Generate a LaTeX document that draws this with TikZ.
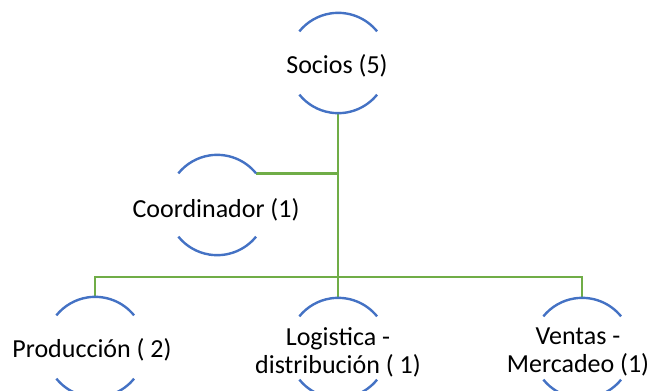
\documentclass[tikz,border=0pt]{standalone}
\usepackage{fontspec}
\setmainfont{Carlito}
\definecolor{ringblue}{HTML}{4472C4}
\definecolor{linkgreen}{HTML}{70AD47}
\tikzset{
  ring/.style={circle, minimum size=75pt, inner sep=0pt, draw=none},
  arcline/.style={draw=ringblue, line width=1.8pt},
  conn/.style={draw=linkgreen, line width=1.8pt},
  label/.style={font=\fontsize{19.5pt}{21pt}\selectfont, align=center, inner sep=0pt},
}
% split ring: an upper and a lower arc around the node centre
\newcommand{\splitring}[1]{%
  \draw[arcline] (#1.39) arc[start angle=39, end angle=141, radius=37.5pt];
  \draw[arcline] (#1.-39) arc[start angle=-39, end angle=-141, radius=37.5pt];
}
\begin{document}
\begin{tikzpicture}[x=0.75pt,y=-0.75pt]
\clip (0,0) rectangle (652,390);

\node[ring] (socios) at (338,63) {};
\node[ring] (coord)  at (217,205) {};
\node[ring] (prod)   at (95,347) {};
\node[ring] (logi)   at (338,348) {};
\node[ring] (vent)   at (582,348) {};
\coordinate (bus) at (0,277);

% connectors
\draw[conn] (socios.south) -- (logi.north);
\draw[conn] (coord.39) -- (coord.39 -| socios.south);
\draw[conn] (prod.north) -- (prod.north |- bus) -- (vent.north |- bus) -- (vent.north);

% rings
\splitring{socios}
\splitring{coord}
\splitring{prod}
\splitring{logi}
\splitring{vent}

% texts
\node[label] (sociosT) at (337,66) {Socios (5)};
\node[label] (coordT)  at (216,210) {Coordinador (1)};
\node[label] (prodT)   at (92,350) {Producción ( 2)};
\node[label] (logiT)   at (338,352) {Logistica -\\distribución ( 1)};
\node[label] (ventT)   at (578,352) {Ventas -\\Mercadeo (1)};
\end{tikzpicture}
\end{document}
